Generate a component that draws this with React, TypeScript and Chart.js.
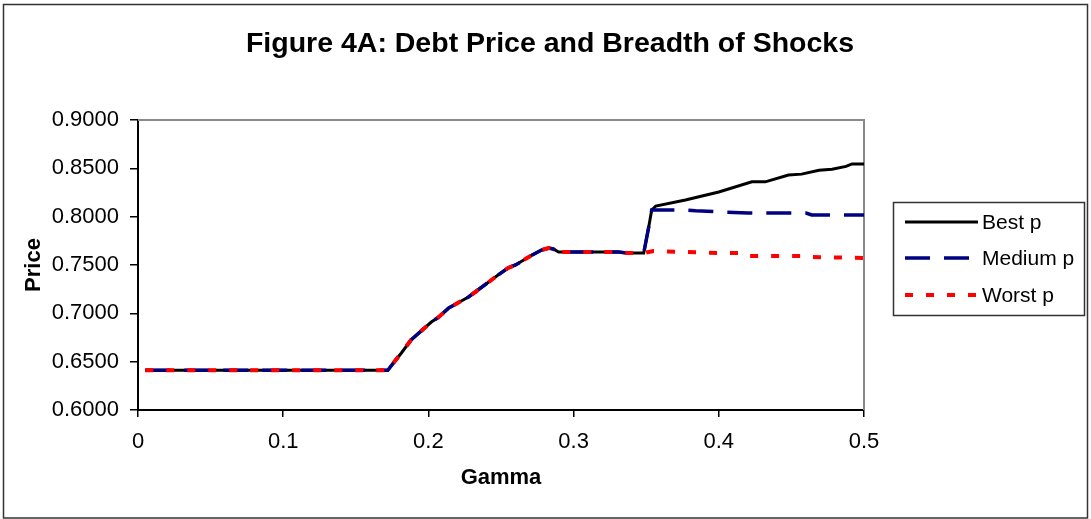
import React, { useEffect, useRef } from "react";
import { Chart, registerables } from "chart.js";

Chart.register(...registerables);

// ---- Data ----
const chartTitle = "Figure 4A: Debt Price and Breadth of Shocks";
const xAxisTitle = "Gamma";
const yAxisTitle = "Price";
const seriesNames = ["Best p", "Medium p", "Worst p"];

// shared path of all three series up to gamma ≈ 0.35
const gammaBase = [0.005, 0.05, 0.1, 0.15, 0.172, 0.1759, 0.1814, 0.188, 0.202, 0.207, 0.214, 0.2276, 0.2434, 0.248, 0.255, 0.26, 0.271, 0.278, 0.2828, 0.286, 0.2897, 0.3, 0.331, 0.3366, 0.345, 0.3483];
const priceBase = [0.641, 0.641, 0.641, 0.641, 0.641, 0.6486, 0.659, 0.6724, 0.691, 0.696, 0.7055, 0.7169, 0.7345, 0.7397, 0.747, 0.75, 0.76, 0.7655, 0.7676, 0.7666, 0.7634, 0.7634, 0.7634, 0.7624, 0.7624, 0.7624];

const gammaBest = [0.3517, 0.3538, 0.3566, 0.377, 0.4, 0.4228, 0.432, 0.448, 0.457, 0.469, 0.478, 0.4876, 0.4917, 0.5];
const priceBest = [0.789, 0.807, 0.811, 0.8172, 0.8255, 0.836, 0.836, 0.843, 0.844, 0.848, 0.849, 0.852, 0.8545, 0.8545];

const gammaMedium = [0.3517, 0.3538, 0.367, 0.3745, 0.384, 0.42, 0.46, 0.464, 0.5];
const priceMedium = [0.789, 0.807, 0.807, 0.807, 0.806, 0.8038, 0.8038, 0.8017, 0.8017];

const gammaWorst = [0.355, 0.4, 0.4138, 0.417, 0.46, 0.462, 0.5];
const priceWorst = [0.7645, 0.7624, 0.7624, 0.7593, 0.7593, 0.7583, 0.7572];

const yMin = 0.6;
const yMax = 0.9;
const yStep = 0.05;
const xMin = 0;
const xMax = 0.5;
const xStep = 0.1;

const FONT = '"Liberation Sans", Arial, sans-serif';

function toPoints(xs: number[], ys: number[]) {
  return xs.map((x, i) => ({ x, y: ys[i] }));
}

export default function App() {
  const canvasRef = useRef<HTMLCanvasElement | null>(null);

  useEffect(() => {
    document.body.style.margin = "0";
    const canvas = canvasRef.current;
    if (!canvas) return;

    const styles = [
      { color: "#000000", width: 3, dash: [] as number[] },
      { color: "#000080", width: 3.5, dash: [25, 14] },
      { color: "#FF0000", width: 4, dash: [8, 13] },
    ];

    const decorPlugin = {
      id: "decor",
      beforeDatasetsDraw(chart: any) {
        const { ctx, chartArea } = chart;
        ctx.save();
        ctx.strokeStyle = "#8a8a8a";
        ctx.lineWidth = 2;
        ctx.beginPath();
        ctx.moveTo(chartArea.left, chartArea.top);
        ctx.lineTo(chartArea.right, chartArea.top);
        ctx.lineTo(chartArea.right, chartArea.bottom);
        ctx.stroke();
        ctx.restore();
      },
      afterDraw(chart: any) {
        const { ctx } = chart;
        ctx.save();
        // outer border
        ctx.strokeStyle = "#333333";
        ctx.lineWidth = 1.5;
        ctx.strokeRect(3.5, 4.5, 1084, 513.5);
        // title
        ctx.fillStyle = "#000000";
        ctx.font = `bold 28.5px ${FONT}`;
        ctx.textAlign = "center";
        ctx.textBaseline = "middle";
        ctx.fillText(chartTitle, 550, 44);
        // legend
        ctx.strokeStyle = "#333333";
        ctx.lineWidth = 1.5;
        ctx.strokeRect(893.5, 202.5, 191, 113);
        const ys = [222, 258, 295];
        chart.data.datasets.forEach((ds: any, i: number) => {
          const st = styles[i];
          ctx.strokeStyle = st.color;
          ctx.lineWidth = st.width;
          ctx.setLineDash(st.dash);
          ctx.beginPath();
          ctx.moveTo(905, ys[i]);
          ctx.lineTo(978, ys[i]);
          ctx.stroke();
          ctx.setLineDash([]);
          ctx.fillStyle = "#000000";
          ctx.font = `21px ${FONT}`;
          ctx.textAlign = "left";
          ctx.textBaseline = "middle";
          ctx.fillText(ds.label, 982, ys[i] + 1);
        });
        ctx.restore();
      },
    };

    const chart = new Chart(canvas, {
      type: "line",
      data: {
        datasets: [
          {
            label: seriesNames[0],
            data: toPoints(gammaBase.concat(gammaBest), priceBase.concat(priceBest)),
            borderColor: styles[0].color,
            borderWidth: styles[0].width,
            borderDash: styles[0].dash,
            pointRadius: 0,
            fill: false,
            tension: 0,
            order: 3,
          },
          {
            label: seriesNames[1],
            data: toPoints(gammaBase.concat(gammaMedium), priceBase.concat(priceMedium)),
            borderColor: styles[1].color,
            borderWidth: styles[1].width,
            borderDash: styles[1].dash,
            pointRadius: 0,
            fill: false,
            tension: 0,
            order: 2,
          },
          {
            label: seriesNames[2],
            data: toPoints(gammaBase.concat(gammaWorst), priceBase.concat(priceWorst)),
            borderColor: styles[2].color,
            borderWidth: styles[2].width,
            borderDash: styles[2].dash,
            pointRadius: 0,
            fill: false,
            tension: 0,
            order: 1,
          },
        ],
      },
      options: {
        responsive: false,
        animation: false,
        layout: { padding: { top: 120, right: 227, left: 0, bottom: 0 } },
        plugins: {
          legend: { display: false },
          title: { display: false },
          tooltip: { enabled: false },
        },
        scales: {
          x: {
            type: "linear",
            min: xMin,
            max: xMax,
            afterFit(scale: any) {
              scale.height = 109;
            },
            ticks: {
              stepSize: xStep,
              color: "#000000",
              font: { family: FONT, size: 22 },
              padding: 12,
              maxRotation: 0,
              callback: (v: any) => (Number(v) === 0 ? "0" : Number(v).toFixed(1)),
            },
            grid: {
              display: true,
              drawOnChartArea: false,
              drawTicks: true,
              tickLength: 7,
              color: "#000000",
              lineWidth: 1.5,
            },
            border: { display: true, color: "#000000", width: 2 },
            title: {
              display: true,
              text: xAxisTitle,
              color: "#000000",
              font: { family: FONT, size: 22, weight: "bold" },
              padding: { top: 0, bottom: 28 },
            },
          },
          y: {
            type: "linear",
            min: yMin,
            max: yMax,
            afterFit(scale: any) {
              scale.width = 138;
            },
            ticks: {
              stepSize: yStep,
              color: "#000000",
              font: { family: FONT, size: 22 },
              padding: 11,
              callback: (v: any) => Number(v).toFixed(4),
            },
            grid: {
              display: true,
              drawOnChartArea: false,
              drawTicks: true,
              tickLength: 8,
              color: "#000000",
              lineWidth: 1.5,
            },
            border: { display: true, color: "#000000", width: 2 },
            title: {
              display: true,
              text: yAxisTitle,
              color: "#000000",
              font: { family: FONT, size: 22, weight: "bold" },
              padding: { top: 21, bottom: 0 },
            },
          },
        },
      },
      plugins: [decorPlugin],
    });

    return () => chart.destroy();
  }, []);

  return (
    <div style={{ width: 1091, height: 519 }}>
      <canvas ref={canvasRef} width={1091} height={519} style={{ display: "block" }} />
    </div>
  );
}
